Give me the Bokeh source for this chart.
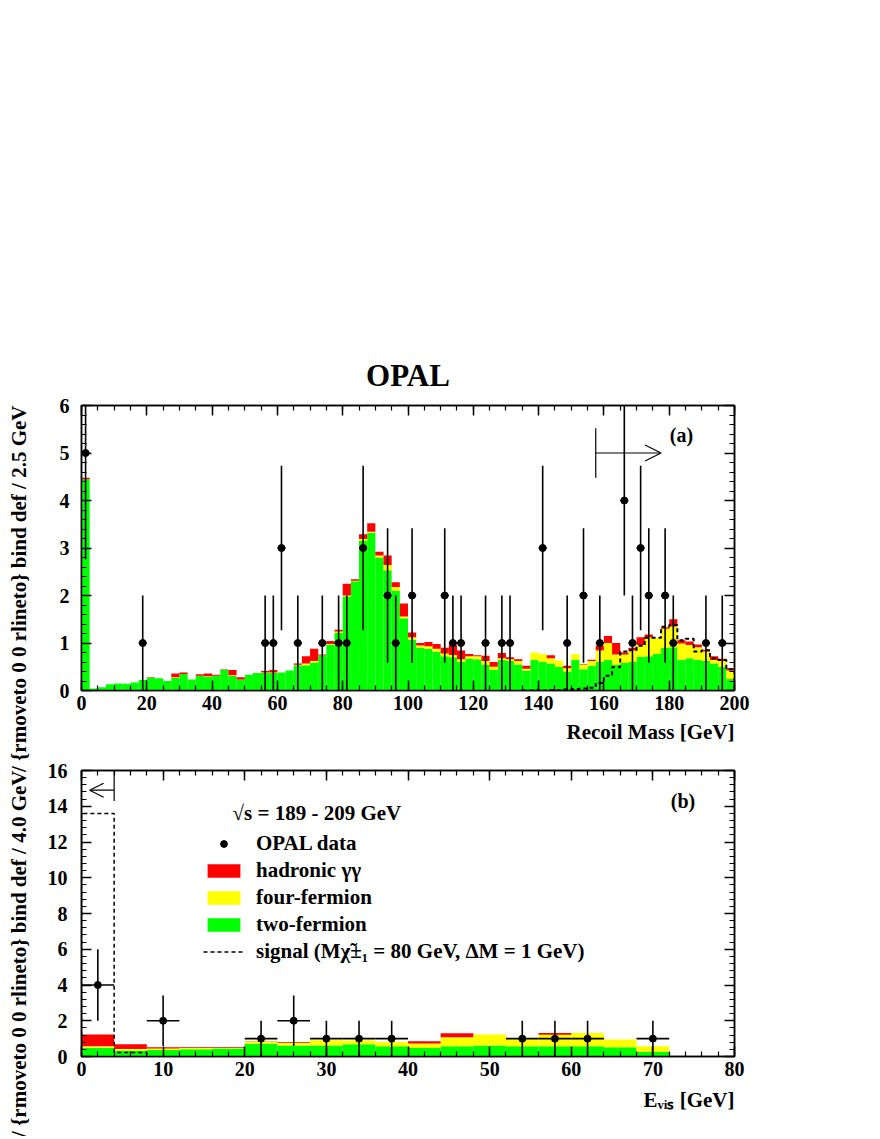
import math
from bokeh.plotting import figure
from bokeh.models import (Range1d, LinearAxis, SingleIntervalTicker, Label, Arrow, OpenHead,
                          Legend, LegendItem, ColumnDataSource, Title)
from bokeh.layouts import column, row
from bokeh.embed import file_html
from bokeh.resources import INLINE

FONT = "Liberation Serif"
RED, YELLOW, GREEN = "#ff0000", "#ffff00", "#00ff00"

# ---------------- panel (a): recoil mass, 2.5 GeV bins from 0 to 200 GeV
a_bin_width = 2.5
a_two_fermion = [4.45, 0.04, 0.07, 0.13, 0.15, 0.14, 0.17, 0.22, 0.27, 0.26,
                 0.20, 0.27, 0.35, 0.23, 0.31, 0.29, 0.31, 0.43, 0.31, 0.23,
                 0.33, 0.37, 0.37, 0.37, 0.38, 0.42, 0.53, 0.53, 0.59, 0.74,
                 0.97, 1.21, 1.98, 2.30, 3.15, 3.32, 2.80, 2.53, 2.10, 1.52,
                 1.07, 0.90, 0.88, 0.82, 0.72, 0.70, 0.60, 0.67, 0.66, 0.55,
                 0.43, 0.64, 0.62, 0.55, 0.42, 0.64, 0.60, 0.57, 0.50, 0.40,
                 0.64, 0.45, 0.52, 0.60, 0.64, 0.55, 0.58, 0.60, 0.71, 0.72,
                 0.77, 0.90, 0.91, 0.64, 0.68, 0.64, 0.62, 0.57, 0.50, 0.24]
a_four_fermion = [0.00, 0.00, 0.00, 0.00, 0.00, 0.00, 0.00, 0.00, 0.00, 0.00,
                  0.00, 0.01, 0.00, 0.00, 0.00, 0.01, 0.00, 0.00, 0.01, 0.00,
                  0.00, 0.00, 0.01, 0.01, 0.00, 0.00, 0.01, 0.04, 0.03, 0.00,
                  0.01, 0.03, 0.02, 0.01, 0.04, 0.02, 0.04, 0.11, 0.08, 0.04,
                  0.05, 0.05, 0.05, 0.06, 0.06, 0.05, 0.06, 0.05, 0.06, 0.07,
                  0.07, 0.04, 0.04, 0.07, 0.04, 0.16, 0.17, 0.11, 0.13, 0.07,
                  0.13, 0.10, 0.10, 0.24, 0.36, 0.21, 0.18, 0.24, 0.25, 0.40,
                  0.33, 0.40, 0.44, 0.35, 0.28, 0.27, 0.20, 0.07, 0.12, 0.18]
a_hadronic = [0.03, 0.00, 0.00, 0.00, 0.00, 0.00, 0.00, 0.00, 0.01, 0.00,
              0.00, 0.08, 0.03, 0.00, 0.03, 0.06, 0.02, 0.01, 0.11, 0.05,
              0.00, 0.00, 0.03, 0.05, 0.00, 0.00, 0.03, 0.15, 0.26, 0.02,
              0.06, 0.04, 0.25, 0.03, 0.10, 0.18, 0.08, 0.20, 0.10, 0.27,
              0.10, 0.05, 0.09, 0.10, 0.12, 0.21, 0.18, 0.05, 0.02, 0.11,
              0.10, 0.11, 0.04, 0.04, 0.06, 0.00, 0.00, 0.06, 0.00, 0.05,
              0.00, 0.01, 0.03, 0.10, 0.15, 0.24, 0.04, 0.06, 0.16, 0.06,
              0.00, 0.03, 0.15, 0.07, 0.07, 0.06, 0.04, 0.08, 0.05, 0.05]
a_signal_first_edge = 135.0
a_signal = [0.00, 0.00, 0.00, 0.01, 0.01, 0.02, 0.03, 0.04, 0.06, 0.16,
            0.31, 0.49, 0.82, 0.85, 0.94, 1.11, 1.11, 1.34, 1.38, 1.06,
            1.09, 0.82, 0.85, 0.68, 0.64, 0.45]
a_data_x = [1.25, 18.75, 56.25, 58.75, 61.25, 66.25, 73.75, 78.75, 81.25, 86.25,
            93.75, 96.25, 101.25, 111.25, 113.75, 116.25, 123.75, 128.75, 131.25, 141.25,
            148.75, 153.75, 158.75, 166.25, 168.75, 171.25, 173.75, 178.75, 181.25, 191.25,
            196.25]
a_data_n = [5, 1, 1, 1, 3, 1, 1, 1, 1, 3,
            2, 1, 2, 2, 1, 1, 1, 1, 1, 3,
            1, 2, 1, 4, 1, 3, 2, 2, 1, 1,
            1]
a_cut = 157.5
a_arrow_end = 177.5

# ---------------- panel (b): visible energy, 4 GeV bins from 0 to 72 GeV
b_bin_width = 4.0
b_two_fermion = [0.49, 0.34, 0.36, 0.41, 0.45, 0.71, 0.62, 0.62, 0.69,
                 0.58, 0.47, 0.58, 0.62, 0.58, 0.58, 0.58, 0.52, 0.27]
b_four_fermion = [0.09, 0.08, 0.09, 0.06, 0.04, 0.13, 0.14, 0.29, 0.21,
                  0.23, 0.26, 0.50, 0.61, 0.41, 0.63, 0.74, 0.43, 0.31]
b_hadronic = [0.65, 0.27, 0.07, 0.05, 0.04, 0.02, 0.04, 0.00, 0.00,
              0.00, 0.12, 0.22, 0.00, 0.03, 0.11, 0.00, 0.00, 0.00]
b_signal = [13.6, 0.22]
b_data_x = [2, 10, 22, 26, 30, 34, 38, 54, 58, 62, 70]
b_data_n = [4, 2, 1, 2, 1, 1, 1, 1, 1, 1, 1]
b_cut = 4.0
b_arrow_end = 1.0

a_ylabel = "/ {rmoveto 0 0 rlineto} bind def / 2.5 GeV"
b_ylabel = "/ {rmoveto 0 0 rlineto} bind def / 4.0 GeV"

STRIP_W = 30
PAGE_H = 1136


def make_fig(xr, yr, xint, xminor, yint, yminor, top, bottom, fh, xstand, ystand):
    p = figure(x_range=Range1d(*xr), y_range=Range1d(*yr), frame_width=653, frame_height=fh,
               min_border_left=81 - STRIP_W, min_border_right=40, min_border_top=top,
               min_border_bottom=bottom, output_backend="svg", toolbar_location=None,
               background_fill_color="white", border_fill_color="white",
               title_location=None)
    p.grid.visible = False
    p.outline_line_color = "black"
    p.outline_line_width = 1.5
    xt = SingleIntervalTicker(interval=xint, num_minor_ticks=xminor)
    yt = SingleIntervalTicker(interval=yint, num_minor_ticks=yminor)
    p.xaxis.ticker = xt
    p.yaxis.ticker = yt
    top_ax = LinearAxis(ticker=xt)
    right_ax = LinearAxis(ticker=yt)
    p.add_layout(top_ax, "above")
    p.add_layout(right_ax, "right")
    for ax in [p.below[0], p.left[0], top_ax, right_ax]:
        ax.major_tick_in = 10
        ax.major_tick_out = 0
        ax.minor_tick_in = 5
        ax.minor_tick_out = 0
        ax.axis_line_width = 1.5
        ax.major_tick_line_width = 1.5
        ax.minor_tick_line_width = 1.2
        ax.major_label_text_font = FONT
        ax.major_label_text_font_style = "bold"
        ax.major_label_text_font_size = "20px"
        ax.major_label_text_color = "black"
    p.below[0].major_label_standoff = xstand
    p.left[0].major_label_standoff = ystand
    for ax in [top_ax, right_ax]:
        ax.major_label_text_color = None
        ax.major_label_text_font_size = "6px"
        ax.major_label_standoff = 0
    return p


def lbl(p, x, y, text, size, align="left", baseline="middle", angle=0.0):
    p.add_layout(Label(x=x, y=y, text=text, text_font=FONT, text_font_style="bold",
                       text_font_size=size, text_align=align, text_baseline=baseline,
                       angle=angle, text_color="black"))


def side_title(p, text, size, side, align, standoff):
    p.add_layout(Title(text=text, text_font=FONT, text_font_style="bold",
                       text_font_size=size, align=align, standoff=standoff,
                       text_color="black"), side)


def step_outline(first_edge, width, vals):
    xs, ys = [first_edge], [0.0]
    for i, v in enumerate(vals):
        xs += [first_edge + i * width, first_edge + (i + 1) * width]
        ys += [v, v]
    xs.append(first_edge + len(vals) * width)
    ys.append(0.0)
    return xs, ys


def draw_panel(p, width, two, four, had, sig_first, sig, dx, dn, halfw, dash, dash_w):
    centers = [width * (i + 0.5) for i in range(len(two))]
    src = ColumnDataSource(dict(x=centers, two=two, four=four, had=had))
    rs = p.vbar_stack(["two", "four", "had"], x="x", width=width, color=[GREEN, YELLOW, RED],
                      line_width=0, source=src)
    sx, sy = step_outline(sig_first, width, sig)
    sr = p.line(sx, sy, line_color="black", line_dash=dash, line_width=dash_w)
    err = [math.sqrt(n) for n in dn]
    p.segment(x0=dx, y0=[n - e for n, e in zip(dn, err)], x1=dx,
              y1=[n + e for n, e in zip(dn, err)], line_color="black", line_width=1.6)
    p.segment(x0=[x - halfw for x in dx], y0=dn, x1=[x + halfw for x in dx], y1=dn,
              line_color="black", line_width=1.6)
    pts = p.scatter(dx, dn, size=7, marker="circle", fill_color="black", line_color="black")
    return rs, sr, pts


# ---------------- top figure
pa = make_fig((0, 200), (0, 6), 20, 4, 1, 5, 405, 65, 285, 5, 12)
draw_panel(pa, a_bin_width, a_two_fermion, a_four_fermion, a_hadronic,
           a_signal_first_edge, a_signal, a_data_x, a_data_n, a_bin_width / 2, "4 3", 2)
pa.segment(x0=[a_cut], y0=[4.48], x1=[a_cut], y1=[5.52], line_color="black", line_width=1.2)
pa.add_layout(Arrow(end=OpenHead(size=16, line_width=1.2, line_color="black"),
                    x_start=a_cut, y_start=5.0, x_end=a_arrow_end, y_end=5.0,
                    line_width=1.2, line_color="black"))
lbl(pa, 180.2, 5.37, "(a)", "20px")
side_title(pa, "OPAL", "31px", "above", "center", 26)
side_title(pa, "Recoil Mass [GeV]", "21px", "below", "right", 10)

# ---------------- bottom figure
pb = make_fig((0, 80), (0, 16), 10, 5, 2, 5, 15, 80, 286, 5, 14)
rs, sr, pts = draw_panel(pb, b_bin_width, b_two_fermion, b_four_fermion, b_hadronic,
                         0.0, b_signal, b_data_x, b_data_n, b_bin_width / 2, "4 3", 1.5)
pb.segment(x0=[b_cut], y0=[14.3], x1=[b_cut], y1=[16], line_color="black", line_width=1.2)
pb.add_layout(Arrow(end=OpenHead(size=14, line_width=1.2, line_color="black"),
                    x_start=b_cut, y_start=14.9, x_end=b_arrow_end, y_end=14.9,
                    line_width=1.2, line_color="black"))
lbl(pb, 72.2, 14.3, "(b)", "20px")
lbl(pb, 18.5, 13.65, "\u221as = 189 - 209 GeV", "21px")
side_title(pb, "E\u1d65\u1d62\u209b [GeV]", "21px", "below", "right", 14)

legend = Legend(items=[
    LegendItem(label="OPAL data", renderers=[pts]),
    LegendItem(label="hadronic \u03b3\u03b3", renderers=[rs[2]]),
    LegendItem(label="four-fermion", renderers=[rs[1]]),
    LegendItem(label="two-fermion", renderers=[rs[0]]),
    LegendItem(label="signal (M\u03c7\u0303\u00b1\u2081 = 80 GeV, \u0394M = 1 GeV)", renderers=[sr]),
], location=(122, 92))
legend.label_text_font = FONT
legend.label_text_font_style = "bold"
legend.label_text_font_size = "21px"
legend.label_text_color = "black"
legend.glyph_width = 41
legend.glyph_height = 17
legend.label_height = 17
legend.label_standoff = 12
legend.spacing = 2
legend.padding = 0
legend.margin = 0
legend.border_line_alpha = 0
legend.background_fill_alpha = 0
pb.add_layout(legend)

# ---------------- left strip carrying the two rotated y-axis titles
strip = figure(frame_width=STRIP_W, frame_height=PAGE_H, x_range=Range1d(0, STRIP_W),
               y_range=Range1d(PAGE_H, 0), x_axis_type=None, y_axis_type=None,
               toolbar_location=None, output_backend="svg", min_border=0,
               title_location=None)
strip.outline_line_color = None
strip.grid.visible = False
lbl(strip, 18, 405, a_ylabel, "21px", align="right", angle=math.pi / 2)
lbl(strip, 18, 770, b_ylabel, "21px", align="right", angle=math.pi / 2)

layout = row(strip, column(pa, pb, spacing=0), spacing=0)
open("out.html", "w").write(file_html(layout, INLINE))
